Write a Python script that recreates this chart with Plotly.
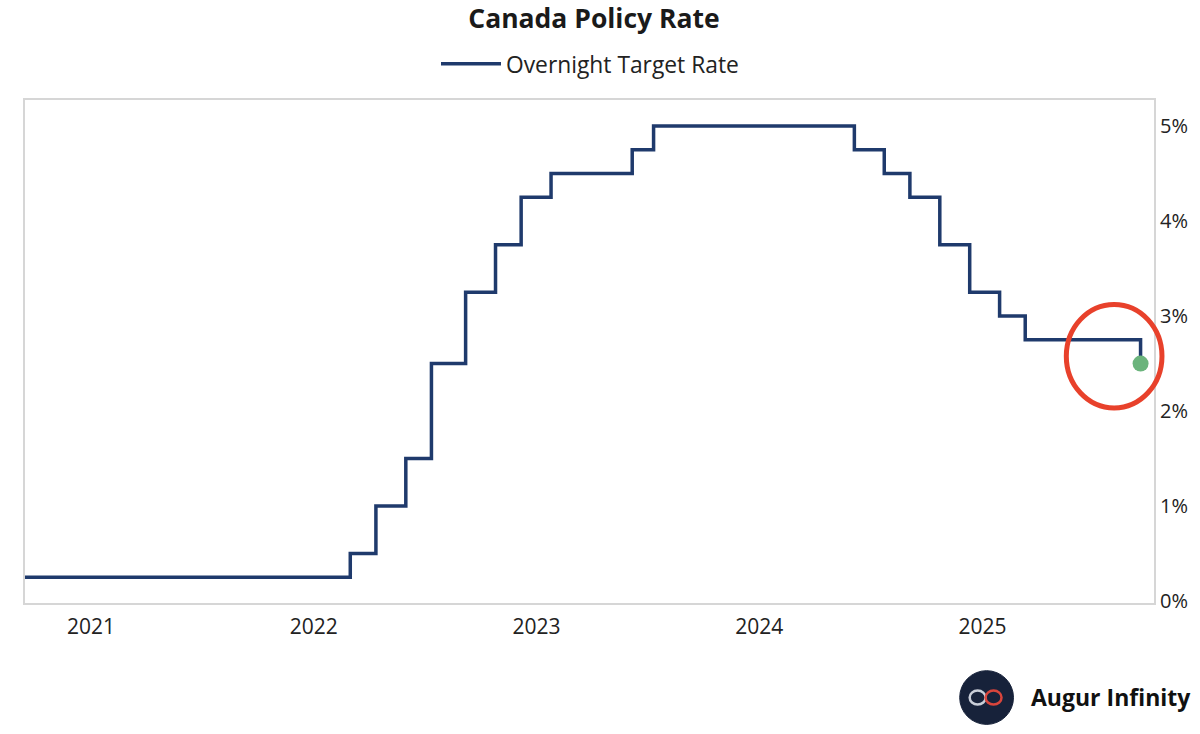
import plotly.graph_objects as go

# ---- data: Bank of Canada overnight target rate decisions ----
decision_dates = [
    "2020-03-27", "2022-03-02", "2022-04-13", "2022-06-01", "2022-07-13",
    "2022-09-07", "2022-10-26", "2022-12-07", "2023-01-25", "2023-06-07",
    "2023-07-12", "2024-06-05", "2024-07-24", "2024-09-04", "2024-10-23",
    "2024-12-11", "2025-01-29", "2025-03-12", "2025-09-17",
]
rates = [
    0.25, 0.50, 1.00, 1.50, 2.50,
    3.25, 3.75, 4.25, 4.50, 4.75,
    5.00, 4.75, 4.50, 4.25, 3.75,
    3.25, 3.00, 2.75, 2.50,
]
y_tick_vals = [0, 1, 2, 3, 4, 5]
y_tick_text = ["0%", "1%", "2%", "3%", "4%", "5%"]
x_tick_vals = ["2021-01-01", "2022-01-01", "2023-01-01", "2024-01-01", "2025-01-01"]
x_tick_text = ["2021", "2022", "2023", "2024", "2025"]

W, H = 1200, 734
L, R, T, B = 25, 1158, 97, 603  # plot area in pixels

def px(xp):
    return (xp - L) / (R - L)

def py(yp):
    return (B - yp) / (B - T)

NAVY = "#1f3a6c"
FONT = "Open Sans"

fig = go.Figure()
fig.add_trace(go.Scatter(
    x=decision_dates, y=rates, mode="lines", line_shape="hv",
    line=dict(color=NAVY, width=3.5), name="Overnight Target Rate",
    hoverinfo="skip",
))
fig.add_trace(go.Scatter(
    x=[decision_dates[-1]], y=[rates[-1]], mode="markers",
    marker=dict(color="#6bb47c", size=16), showlegend=False, hoverinfo="skip",
))

shapes = [
    # red highlight ellipse
    dict(type="circle", xref="paper", yref="paper",
         x0=px(1070), x1=px(1166), y0=py(407), y1=py(303),
         line=dict(color="#e8412b", width=5)),
    # logo circle
    dict(type="circle", xref="paper", yref="paper",
         x0=px(963), x1=px(1017), y0=py(725), y1=py(671),
         fillcolor="#17223a", line=dict(color="#17223a", width=1)),
    dict(type="circle", xref="paper", yref="paper",
         x0=px(973), x1=px(989), y0=py(705), y1=py(691),
         line=dict(color="#c9ced8", width=2.5)),
    dict(type="circle", xref="paper", yref="paper",
         x0=px(989), x1=px(1005), y0=py(705), y1=py(691),
         line=dict(color="#d9453c", width=2.5)),
]

annotations = [
    dict(text="<b>Augur Infinity</b>", xref="paper", yref="paper",
         x=px(1033), y=py(697), xanchor="left", yanchor="middle",
         showarrow=False, font=dict(family=FONT, size=23, color="#111111")),
]

fig.update_layout(
    width=W, height=H,
    margin=dict(l=L, r=W - R, t=T, b=H - B, pad=0),
    paper_bgcolor="white", plot_bgcolor="white",
    title=dict(text="<b>Canada Policy Rate</b>", x=594 / W, xanchor="center",
               y=1 - 18.5 / H, yanchor="middle",
               font=dict(family=FONT, size=26.5, color="#1a1a1a")),
    font=dict(family=FONT, size=20, color="#222222"),
    showlegend=True,
    legend=dict(orientation="h", xref="container", yref="container",
                x=590 / W, xanchor="center", y=1 - 64 / H, yanchor="middle",
                font=dict(family=FONT, size=22.8, color="#222222"),
                itemwidth=60, bgcolor="rgba(0,0,0,0)"),
    xaxis=dict(
        type="date", range=["2020-09-15", "2025-10-09"],
        tickvals=x_tick_vals, ticktext=x_tick_text,
        showgrid=False, zeroline=False, showline=True, mirror=True,
        linecolor="#d6d6d6", linewidth=2, ticks="", ticklabelstandoff=4,
        tickfont=dict(family=FONT, size=21, color="#222222"),
    ),
    yaxis=dict(
        side="right", range=[-0.02, 5.28], tickvals=y_tick_vals,
        ticktext=y_tick_text, showgrid=False, zeroline=False, showline=True,
        mirror=True, linecolor="#d6d6d6", linewidth=2, ticks="",
        tickfont=dict(family=FONT, size=20, color="#222222"),
    ),
    shapes=shapes, annotations=annotations,
)

fig.write_html(
    "out.html",
    config={"displayModeBar": False},
    post_script="document.body.style.margin='0';document.body.style.padding='0';",
)
